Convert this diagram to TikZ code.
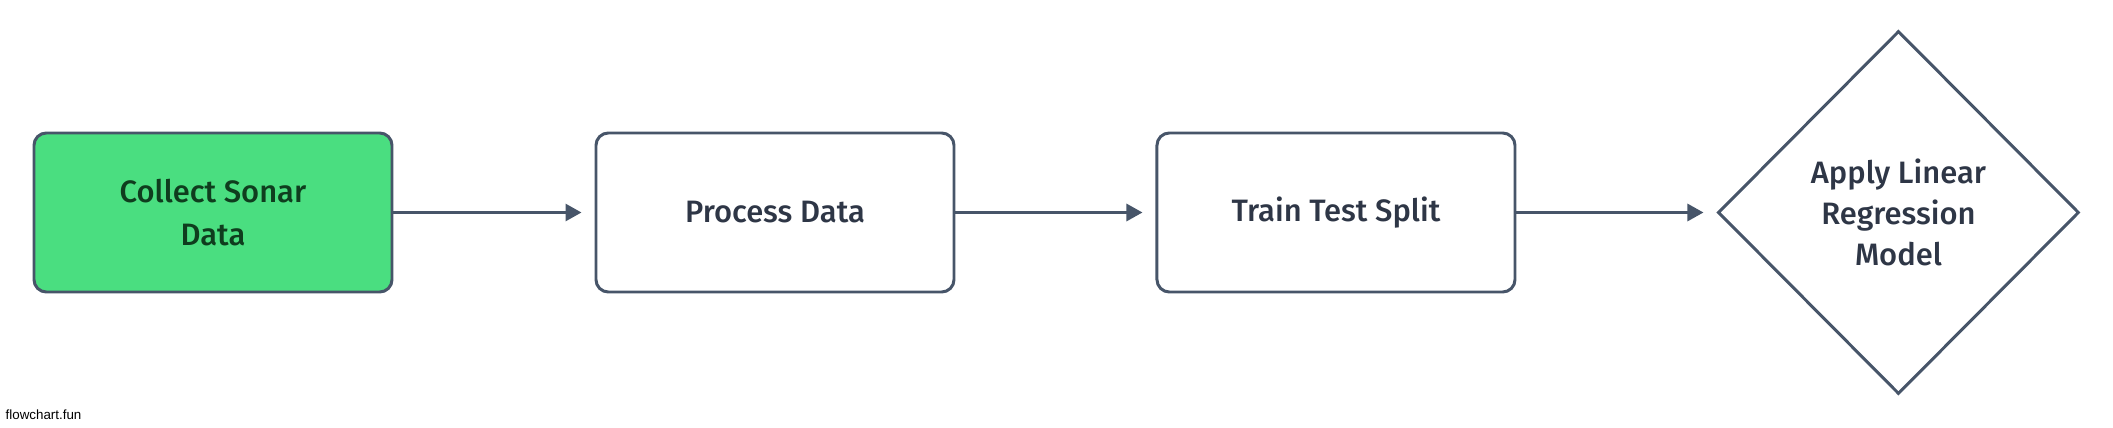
\documentclass[tikz,border=0pt]{standalone}
\usepackage{fontspec}
\setmainfont{Fira Sans}[UprightFont=* Medium]
\newfontfamily\marcafont{Liberation Sans}
\usetikzlibrary{positioning,shapes.geometric,arrows.meta}
\definecolor{borde}{HTML}{475569}
\definecolor{verde}{HTML}{4ADE80}
\definecolor{textoverde}{HTML}{0F3D1E}
\definecolor{texto}{HTML}{2E3646}

\begin{document}
\begin{tikzpicture}[
  caja/.style={draw=borde,line width=0.85pt,rounded corners=3.5pt,minimum width=3.58cm,minimum height=1.59cm,align=center,text=texto,font=\fontsize{8.8}{12}\selectfont},
  rombo/.style={diamond,draw=borde,line width=0.85pt,minimum width=3.61cm,minimum height=3.63cm,inner sep=0pt,align=center,text=texto,font=\fontsize{8.8}{11.6}\selectfont},
  flecha/.style={draw=borde,line width=0.85pt,-{Triangle[length=1.6mm,width=1.7mm]},shorten >=1.3mm}
]
  \useasboundingbox (0,0) rectangle (21.13,4.27);

  % Pasos del proceso
  \node[caja,fill=verde,text=textoverde] (recoger) at (2.13,2.145) {Collect Sonar\\Data};
  \node[caja,right=2.01cm of recoger] (procesar) {Process Data};
  \node[caja,right=2.0cm of procesar] (dividir) {Train Test Split};
  \node[rombo,right=2.0cm of dividir] (modelo) {Apply Linear\\Regression\\Model};

  % Flechas entre pasos
  \draw[flecha] (recoger) -- (procesar);
  \draw[flecha] (procesar) -- (dividir);
  \draw[flecha] (dividir) -- (modelo);

  \node[anchor=base west,inner sep=0pt,font=\marcafont\fontsize{3.8}{4}\selectfont] (marca) at (0.05,0.08) {flowchart.fun};
\end{tikzpicture}
\end{document}
